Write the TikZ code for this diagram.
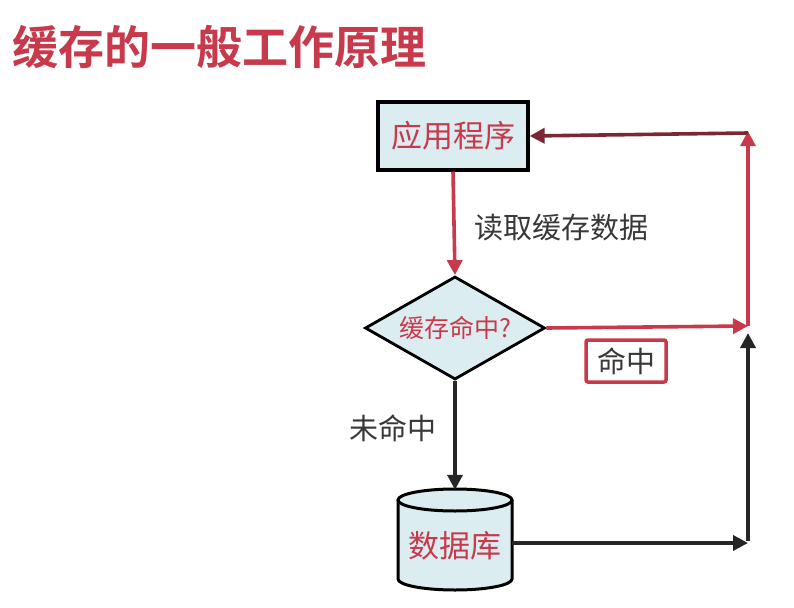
\documentclass[tikz,border=0pt]{standalone}
\usepackage{fontspec}
\setmainfont{Noto Sans CJK SC}
\newfontfamily\cjkbold{Noto Sans CJK SC Bold}
\usetikzlibrary{shapes.geometric,arrows.meta}
\definecolor{myred}{HTML}{C8394B}
\definecolor{mydark}{HTML}{7A2833}
\definecolor{myfill}{HTML}{DCEDF1}
\definecolor{mytext}{HTML}{383838}
\tikzset{
  procbox/.style={draw=black, line width=3.2pt, fill=myfill, minimum width=150, minimum height=68, inner sep=0, text=myred, font=\fontsize{31}{34}\selectfont},
  decbox/.style={diamond, draw=black, line width=2.8pt, fill=myfill, minimum width=180, minimum height=103, inner sep=0, aspect=1.75, text=myred, font=\fontsize{25}{28}\selectfont},
  lbl/.style={text=mytext, font=\fontsize{29}{32}\selectfont, inner sep=0},
  conn/.style={line width=3.6pt, -{Triangle[length=15pt,width=15pt]}},
}
\begin{document}
\begin{tikzpicture}[x=1pt,y=-1pt]
\useasboundingbox (0,0) rectangle (794,607);
\node[anchor=west, inner sep=0, text=myred, font=\cjkbold\fontsize{46}{50}\selectfont] (title) at (12,47) {缓存的一般工作原理};
\node[procbox] (app) at (453,136) {应用程序};
\node[decbox] (dec) at (455,328) {缓存命中?};
% database cylinder
\node[minimum width=114, minimum height=100, inner sep=0] (db) at (455,540) {};
\fill[myfill] (398,500) -- (398,579) arc[start angle=180, end angle=0, x radius=57, y radius=11] -- (512,500) -- cycle;
\fill[myfill] (455,500) ellipse[x radius=57, y radius=11];
\draw[line width=3pt] (398,500) -- (398,579) arc[start angle=180, end angle=0, x radius=57, y radius=11] -- (512,500);
\draw[line width=3pt] (455,500) ellipse[x radius=57, y radius=11];
\node[text=myred, font=\fontsize{31}{34}\selectfont, inner sep=0] (dbt) at (455,546) {数据库};
\coordinate (hit) at (748,326);
\coordinate (top) at (748,133);
\coordinate (bot) at (748,543);
\coordinate (hitb) at (748,333);
\draw[conn, myred] (app.south) -- (dec.north);
\node[lbl, anchor=west] (l1) at (474,228) {读取缓存数据};
\draw[conn, myred] (dec.east) -- (hit);
\draw[conn, myred] (hit) -- ([yshift=1.8pt]top);
\draw[conn, mydark] (top) -- (app.east);
\node[lbl, draw=myred, line width=3.5pt, fill=white, rounded corners=2pt, minimum width=80, minimum height=42] (l2) at (626,361) {命中};
\draw[conn, black!85] (dec.south) -- (db.north);
\node[lbl, anchor=east] (l3) at (437,428) {未命中};
\draw[conn, black!85] (db.east |- bot) -- (bot);
\draw[conn, black!85] ([yshift=1.8pt]bot) -- (hitb);
\end{tikzpicture}
\end{document}
